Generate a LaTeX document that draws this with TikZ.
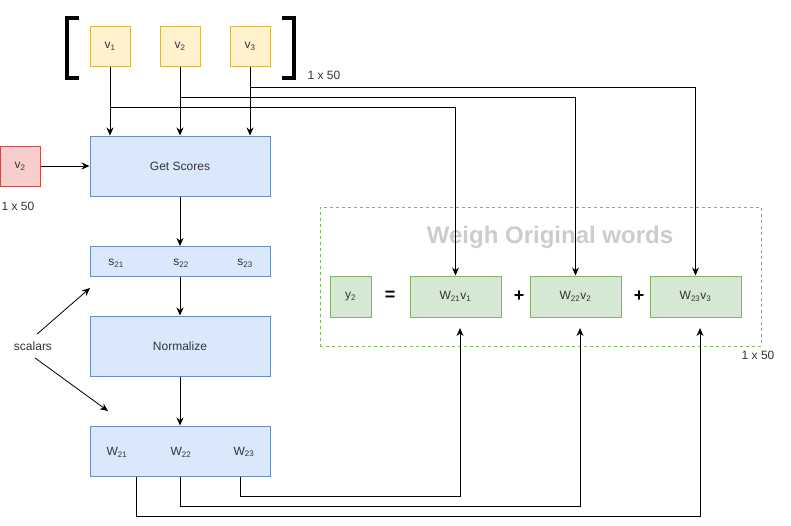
\documentclass[tikz,border=0pt]{standalone}
\usepackage{fontspec}
\setmainfont{Liberation Sans}
\usetikzlibrary{positioning, arrows.meta}

\definecolor{yfill}{HTML}{FFF2CC}
\definecolor{ydraw}{HTML}{D6B656}
\definecolor{rfill}{HTML}{F8CECC}
\definecolor{rdraw}{HTML}{B85450}
\definecolor{bfill}{HTML}{DAE8FC}
\definecolor{bdraw}{HTML}{6C8EBF}
\definecolor{gfill}{HTML}{D5E8D4}
\definecolor{gdraw}{HTML}{82B366}
\definecolor{txt}{HTML}{333333}
\definecolor{ttlgray}{HTML}{CCCCCC}

\tikzset{
  box/.style={draw, line width=1pt, inner sep=0pt, text=txt},
  vbox/.style={box, fill=yfill, draw=ydraw, minimum width=40pt, minimum height=40pt},
  qbox/.style={box, fill=rfill, draw=rdraw, minimum width=40pt, minimum height=40pt},
  bbox/.style={box, fill=bfill, draw=bdraw, minimum width=180pt},
  gbox/.style={box, fill=gfill, draw=gdraw, minimum height=41pt},
  lbl/.style={text=txt, inner sep=1pt},
  op/.style={font=\fontsize{18}{20}\selectfont\bfseries, inner sep=0pt},
}

\begin{document}
\begin{tikzpicture}[x=1pt, y=-1pt, ->, >={Stealth[length=8pt, width=7pt]},
    line width=1pt, font=\fontsize{12}{14}\selectfont]
  \useasboundingbox (0,0) rectangle (791,525);

  % input words
  \draw[-, line width=4.5pt] (79,18) -- (67,18) -- (67,78) -- (79,78);
  \draw[-, line width=4.5pt] (282,18) -- (294,18) -- (294,78) -- (282,78);
  \node[vbox] (v1) at (110,46) {v\textsubscript{1}};
  \node[vbox] (v2) at (180,46) {v\textsubscript{2}};
  \node[vbox] (v3) at (250,46) {v\textsubscript{3}};
  \node[lbl] (dimv) at (324,75) {1 x 50};

  % query
  \node[qbox] (q) at (20,166) {v\textsubscript{2}};
  \node[lbl] (dimq) at (18,206) {1 x 50};

  % scoring column
  \node[bbox, minimum height=60pt] (score) at (180,166) {Get Scores};
  \node[bbox, minimum height=30pt] (s) at (180,261.5) {};
  \node[lbl] (s21) at (116,263) {s\textsubscript{21}};
  \node[lbl] (s22) at (181,263) {s\textsubscript{22}};
  \node[lbl] (s23) at (245,263) {s\textsubscript{23}};
  \node[bbox, minimum height=60pt] (norm) at (180,346) {Normalize};
  \node[bbox, minimum height=50pt] (w) at (180,451) {};
  \node[lbl] (w21) at (117,452) {W\textsubscript{21}};
  \node[lbl] (w22) at (181,452) {W\textsubscript{22}};
  \node[lbl] (w23) at (244,452) {W\textsubscript{23}};
  \node[lbl] (sc) at (33,346) {scalars};

  % weighted sum
  \node[draw=gdraw, dashed, line width=0.8pt, minimum width=441pt, minimum height=139pt] (grp) at (540.5,276.5) {};
  \node[text=ttlgray, font=\fontsize{24}{28}\selectfont\bfseries] (ttl) at (550,237) {Weigh Original words};
  \node[gbox, minimum width=41pt] (y2) at (350.5,296.5) {y\textsubscript{2}};
  \node[op] (eq) at (390,296) {=};
  \node[gbox, minimum width=91pt] (wv1) at (455.5,296.5) {W\textsubscript{21}v\textsubscript{1}};
  \node[op] (p1) at (519,296) {+};
  \node[gbox, minimum width=91pt] (wv2) at (575.5,296.5) {W\textsubscript{22}v\textsubscript{2}};
  \node[op] (p2) at (639,296) {+};
  \node[gbox, minimum width=91pt] (wv3) at (695.5,296.5) {W\textsubscript{23}v\textsubscript{3}};
  \node[lbl] (dimy) at (758,355) {1 x 50};

  \coordinate (t1) at (110,107);
  \coordinate (t2) at (180,97);
  \coordinate (t3) at (250,87);
  \coordinate (u1) at (460,328);
  \coordinate (u2) at (580,328);
  \coordinate (u3) at (700,328);
  \coordinate (sa) at (90,288);
  \coordinate (sb) at (108,411);

  \draw (v1) -- (score.north -| v1);
  \draw (v2) -- (score);
  \draw (v3) -- (score.north -| v3);
  \draw (t1) -| (wv1);
  \draw (t2) -| (wv2);
  \draw (t3) -| (wv3);
  \draw (q) -- (score);
  \draw (score) -- (s);
  \draw (s) -- (norm);
  \draw (norm) -- (w);
  \draw ([xshift=60pt]w.south) -- ++(0,20) -| (u1);
  \draw (w.south) -- ++(0,30) -| (u2);
  \draw ([xshift=-44pt]w.south) -- ++(0,40) -| (u3);
  \draw[line width=0.8pt] ([xshift=4pt,yshift=6pt]sc.north) -- (sa);
  \draw[line width=0.8pt] ([xshift=2pt,yshift=-6pt]sc.south) -- (sb);
\end{tikzpicture}
\end{document}
